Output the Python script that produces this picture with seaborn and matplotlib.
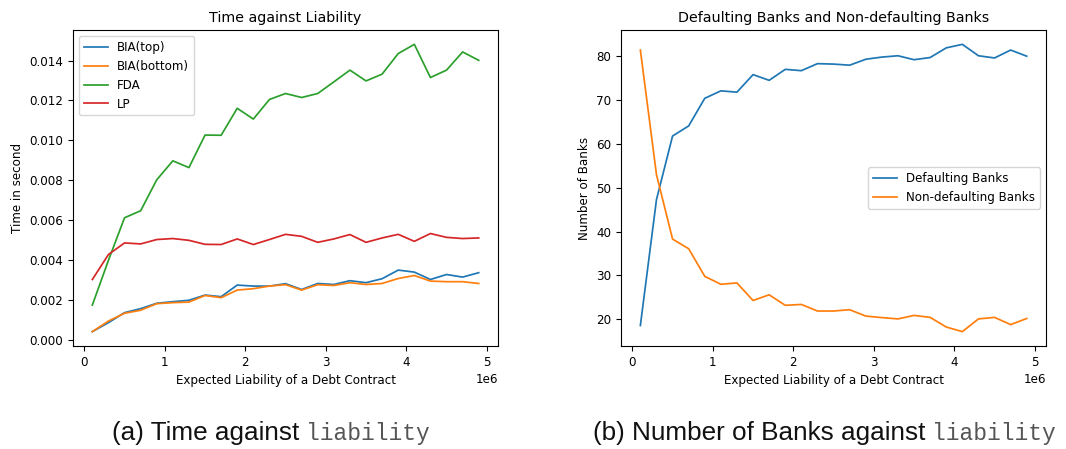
import numpy as np
import pandas as pd
import matplotlib
matplotlib.use("Agg")
import matplotlib.pyplot as plt
import seaborn as sns

# Expected liability of a debt contract (x values)
liability = [0.1e6, 0.3e6, 0.5e6, 0.7e6, 0.9e6, 1.1e6, 1.3e6, 1.5e6, 1.7e6, 1.9e6,
             2.1e6, 2.3e6, 2.5e6, 2.7e6, 2.9e6, 3.1e6, 3.3e6, 3.5e6, 3.7e6, 3.9e6,
             4.1e6, 4.3e6, 4.5e6, 4.7e6, 4.9e6]

# Running time in seconds for each algorithm
bia_top = [0.00043, 0.00088, 0.00138, 0.00158, 0.00185, 0.00193, 0.00200, 0.00226, 0.00218, 0.00276,
           0.00271, 0.00271, 0.00283, 0.00254, 0.00284, 0.00279, 0.00298, 0.00288, 0.00308, 0.00351,
           0.00341, 0.00304, 0.00329, 0.00316, 0.00338]
bia_bottom = [0.00043, 0.00096, 0.00135, 0.00150, 0.00183, 0.00188, 0.00191, 0.00224, 0.00213, 0.00251,
              0.00258, 0.00271, 0.00278, 0.00251, 0.00278, 0.00274, 0.00288, 0.00279, 0.00284, 0.00309,
              0.00324, 0.00296, 0.00293, 0.00293, 0.00284]
fda = [0.00176, 0.00400, 0.00613, 0.00648, 0.00803, 0.00898, 0.00864, 0.01027, 0.01026, 0.01161,
       0.01107, 0.01205, 0.01235, 0.01215, 0.01235, 0.01293, 0.01352, 0.01298, 0.01332, 0.01435,
       0.01481, 0.01315, 0.01352, 0.01443, 0.01401]
lp = [0.00304, 0.00429, 0.00487, 0.00482, 0.00504, 0.00509, 0.00500, 0.00480, 0.00479, 0.00507,
      0.00479, 0.00504, 0.00530, 0.00520, 0.00490, 0.00507, 0.00529, 0.00490, 0.00512, 0.00530,
      0.00495, 0.00534, 0.00515, 0.00509, 0.00512]
time_series = ["BIA(top)", "BIA(bottom)", "FDA", "LP"]

# Number of defaulting / non-defaulting banks
defaulting = [18.6, 47.3, 61.8, 64.1, 70.4, 72.1, 71.8, 75.8, 74.5, 77.0,
              76.7, 78.3, 78.2, 77.95, 79.3, 79.8, 80.1, 79.2, 79.7, 81.9,
              82.7, 80.1, 79.6, 81.4, 80.0]
non_defaulting = [81.4, 53.0, 38.3, 36.1, 29.8, 28.0, 28.3, 24.3, 25.6, 23.2,
                  23.4, 21.9, 21.9, 22.2, 20.75, 20.4, 20.1, 20.9, 20.45, 18.25,
                  17.2, 20.1, 20.45, 18.8, 20.2]
bank_series = ["Defaulting Banks", "Non-defaulting Banks"]

xlabel = "Expected Liability of a Debt Contract"

time_df = pd.DataFrame({"liability": liability * 4,
                        "time": bia_top + bia_bottom + fda + lp,
                        "algorithm": [s for s in time_series for _ in liability]})
bank_df = pd.DataFrame({"liability": liability * 2,
                        "banks": defaulting + non_defaulting,
                        "status": [s for s in bank_series for _ in liability]})

palette = sns.color_palette("tab10")
fs = 8.6
lw = 1.25

fig = plt.figure(figsize=(10.66, 4.49), dpi=100)
ax1 = fig.add_axes([0.0685, 0.2294, 0.3987, 0.7038])
ax2 = fig.add_axes([0.5826, 0.2294, 0.3987, 0.7038])

for i, name in enumerate(time_series):
    sub = time_df[time_df["algorithm"] == name]
    sns.lineplot(data=sub, x="liability", y="time", ax=ax1, label=name,
                 color=palette[i], linewidth=lw)
ax1.set_title("Time against Liability", fontsize=10.3)
ax1.set_xlabel(xlabel, fontsize=fs)
ax1.set_ylabel("Time in second", fontsize=fs)
ax1.set_xticks([0, 1e6, 2e6, 3e6, 4e6, 5e6])
ax1.legend(loc="upper left", fontsize=fs)

for i, name in enumerate(bank_series):
    sub = bank_df[bank_df["status"] == name]
    sns.lineplot(data=sub, x="liability", y="banks", ax=ax2, label=name,
                 color=palette[i], linewidth=lw)
ax2.set_title("Defaulting Banks and Non-defaulting Banks", fontsize=10.3)
ax2.set_xlabel(xlabel, fontsize=fs)
ax2.set_ylabel("Number of Banks", fontsize=fs)
ax2.set_xticks([0, 1e6, 2e6, 3e6, 4e6, 5e6])
ax2.legend(loc="center right", fontsize=fs)

for ax in (ax1, ax2):
    ax.tick_params(labelsize=fs, width=0.8, length=3.5)
    ax.xaxis.get_offset_text().set_fontsize(fs)
    for sp in ax.spines.values():
        sp.set_linewidth(0.8)

# Sub-figure captions: sans-serif text followed by a typewriter word
W, H = fig.get_size_inches() * fig.dpi
renderer = fig.canvas.get_renderer()
captions = [("(a) Time against", 112), ("(b) Number of Banks against", 593)]
for text, x0 in captions:
    t = fig.text(x0 / W, 1 - 440 / H, text, family="Liberation Sans",
                 fontsize=18.8, ha="left", va="baseline", color="#111111")
    bb = t.get_window_extent(renderer=renderer)
    fig.text((bb.x1 + 7) / W, 1 - 440 / H, "liability", family="Liberation Mono",
             fontsize=16.5, ha="left", va="baseline", color="#555555")

fig.savefig("out.png", dpi=100)
